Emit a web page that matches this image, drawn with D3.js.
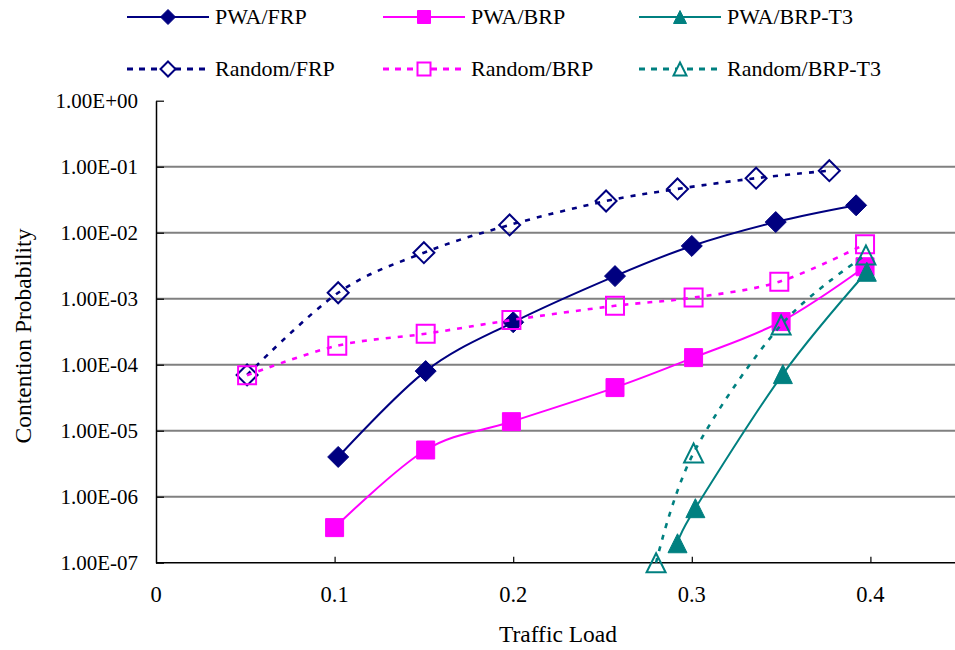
<!DOCTYPE html>
<html><head><meta charset="utf-8">
<script src="https://cdn.jsdelivr.net/npm/d3@7"></script>
<style>body{margin:0;background:#fff}svg{display:block}text{font-family:"Liberation Serif","Times New Roman",serif;fill:#000}</style>
</head><body><svg id="c" width="955" height="650"></svg>
<script>
// ---- data ----
const seriesNames = ["PWA/FRP","PWA/BRP","PWA/BRP-T3","Random/FRP","Random/BRP","Random/BRP-T3"];
const pwaFrpX = [0.102, 0.151, 0.200, 0.257, 0.300, 0.347, 0.392];
const pwaFrpY = [4.0e-6, 8.0e-5, 4.4e-4, 2.2e-3, 6.3e-3, 1.45e-2, 2.6e-2];
const pwaBrpX = [0.100, 0.151, 0.199, 0.257, 0.301, 0.350, 0.397];
const pwaBrpY = [3.4e-7, 5.1e-6, 1.37e-5, 4.5e-5, 1.28e-4, 4.5e-4, 3.05e-3];
const pwaBrpT3X = [0.292, 0.302, 0.351, 0.398];
const pwaBrpT3Y = [1.97e-7, 6.7e-7, 7.2e-5, 2.56e-3];
const randFrpX = [0.051, 0.102, 0.150, 0.198, 0.252, 0.292, 0.336, 0.377];
const randFrpY = [7.0e-5, 1.23e-3, 4.98e-3, 1.31e-2, 3.02e-2, 4.6e-2, 6.7e-2, 8.7e-2];
const randBrpX = [0.051, 0.1015, 0.151, 0.199, 0.257, 0.301, 0.349, 0.397];
const randBrpY = [6.9e-5, 1.94e-4, 2.95e-4, 4.75e-4, 7.8e-4, 1.04e-3, 1.81e-3, 6.7e-3];
const randBrpT3X = [0.280, 0.301, 0.350, 0.3975];
const randBrpT3Y = [1.0e-7, 4.6e-6, 4.0e-4, 4.6e-3];
const xTicks = [0, 0.1, 0.2, 0.3, 0.4];
const yTicks = [1e-7, 1e-6, 1e-5, 1e-4, 1e-3, 1e-2, 1e-1, 1];
const xTitle = "Traffic Load";
const yTitle = "Contention Probability";

// ---- styles ----
const NAVY = "#000080", MAG = "#FF00FF", TEAL = "#008080";
const styles = [
  {color: NAVY, shape: "diamond", fill: true, dash: null},
  {color: MAG, shape: "square", fill: true, dash: null},
  {color: TEAL, shape: "triangle", fill: true, dash: null},
  {color: NAVY, shape: "diamond", fill: false, dash: "5,7"},
  {color: MAG, shape: "square", fill: false, dash: "5,7"},
  {color: TEAL, shape: "triangle", fill: false, dash: "5,7"}
];
const xs = [pwaFrpX, pwaBrpX, pwaBrpT3X, randFrpX, randBrpX, randBrpT3X];
const ys = [pwaFrpY, pwaBrpY, pwaBrpT3Y, randFrpY, randBrpY, randBrpT3Y];

const svg = d3.select("#c");
const x = d3.scaleLinear().domain([0, 0.45]).range([156, 959.7]);
const y = d3.scaleLog().domain([1e-7, 1]).range([562.7, 100.7]);

function markerPath(shape, s) {
  const h = s / 2;
  if (shape === "diamond") return `M0,${-h}L${h},0L0,${h}L${-h},0Z`;
  if (shape === "square") return `M${-h},${-h}H${h}V${h}H${-h}Z`;
  return `M0,${-h}L${h},${h}L${-h},${h}Z`;
}

// gridlines
svg.append("g").selectAll("line").data(yTicks.filter(v => v > 1e-7 && v < 1)).join("line")
  .attr("x1", 156).attr("x2", 955).attr("y1", d => y(d)).attr("y2", d => y(d))
  .attr("stroke", "#808080").attr("stroke-width", 2);

// axes
const fmtY = v => { const e = Math.round(Math.log10(v)); return "1.00E" + (e < 0 ? "-" : "+") + String(Math.abs(e)).padStart(2, "0"); };
const yAxis = svg.append("g").attr("transform", "translate(156,0)")
  .call(d3.axisRight(y).tickValues(yTicks).tickFormat("").tickSize(8).tickSizeOuter(0));
yAxis.select(".domain").attr("stroke", "#000").attr("stroke-width", 1.5);
yAxis.selectAll(".tick line").attr("stroke", "#000").attr("stroke-width", 1.2);
svg.append("g").selectAll("text").data(yTicks).join("text")
  .attr("x", 138).attr("y", d => y(d)).attr("dy", "0.35em").attr("text-anchor", "end")
  .attr("font-size", 21).text(fmtY);

const xAxis = svg.append("g").attr("transform", "translate(0,562.7)")
  .call(d3.axisTop(x).tickValues(xTicks.filter(v => v > 0)).tickFormat("").tickSize(6).tickSizeOuter(0));
xAxis.select(".domain").attr("stroke", "#000").attr("stroke-width", 1.5).attr("d", "M156,0H955");
xAxis.selectAll(".tick line").attr("stroke", "#000").attr("stroke-width", 1.2);
svg.append("g").selectAll("text").data(xTicks).join("text")
  .attr("x", d => x(d)).attr("y", 601.5).attr("text-anchor", "middle")
  .attr("font-size", 22.5).text(d => d === 0 ? "0" : d3.format(".1f")(d));

svg.append("text").attr("x", 558).attr("y", 642).attr("text-anchor", "middle").attr("font-size", 23.5).text(xTitle);
svg.append("text").attr("transform", "translate(31,336) rotate(-90)").attr("text-anchor", "middle").attr("font-size", 23.5).text(yTitle);

// series
const line = d3.line().curve(d3.curveCardinal.tension(0)).x(d => x(d[0])).y(d => y(d[1]));
seriesNames.forEach((name, i) => {
  const st = styles[i];
  const pts = xs[i].map((v, j) => [v, ys[i][j]]);
  const g = svg.append("g");
  g.append("path").attr("d", line(pts)).attr("fill", "none").attr("stroke", st.color)
    .attr("stroke-width", st.dash ? 2.6 : 2).attr("stroke-dasharray", st.dash);
  g.selectAll("path.m").data(pts).join("path").attr("class", "m")
    .attr("transform", d => `translate(${x(d[0])},${y(d[1])})`)
    .attr("d", markerPath(st.shape, st.shape === "diamond" ? 21 : st.shape === "square" ? 18 : 19))
    .attr("fill", st.fill ? st.color : "none").attr("stroke", st.color).attr("stroke-width", st.fill ? 1 : 2);
});

// legend
const legCols = [127, 383, 639], legRows = [17, 69];
seriesNames.forEach((name, i) => {
  const st = styles[i];
  const gx = legCols[i % 3], gy = legRows[Math.floor(i / 3)];
  const g = svg.append("g").attr("transform", `translate(${gx},${gy})`);
  g.append("line").attr("x1", 0).attr("x2", 82).attr("y1", 0).attr("y2", 0)
    .attr("stroke", st.color).attr("stroke-width", st.dash ? 3 : 2.2).attr("stroke-dasharray", st.dash ? "6,6" : null);
  g.append("path").attr("transform", "translate(41,0)")
    .attr("d", markerPath(st.shape, st.shape === "diamond" ? 15 : 13))
    .attr("fill", st.fill ? st.color : "#fff").attr("stroke", st.color).attr("stroke-width", st.fill ? 1 : 2);
  g.append("text").attr("x", 88).attr("y", 0).attr("dy", "0.33em").attr("font-size", 22).text(name);
});
</script></body></html>
